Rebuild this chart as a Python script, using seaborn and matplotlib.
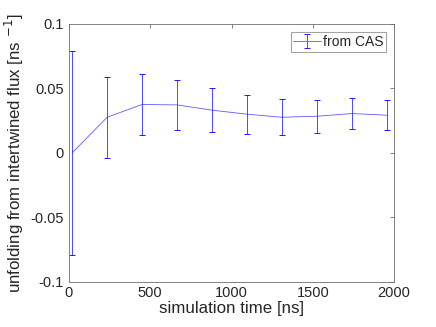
import numpy as np
import pandas as pd
import matplotlib
matplotlib.use("Agg")
import matplotlib.pyplot as plt
import seaborn as sns

# data
time_ns = [20, 235, 450, 665, 880, 1095, 1310, 1525, 1740, 1955]
mean_flux = [0.0, 0.0276, 0.0375, 0.0372, 0.0331, 0.0300, 0.0276, 0.0284, 0.0305, 0.0292]
lower_flux = [-0.0788, -0.0039, 0.0137, 0.0181, 0.0160, 0.0147, 0.0137, 0.0155, 0.0183, 0.0176]
upper_flux = [0.0790, 0.0592, 0.0612, 0.0566, 0.0501, 0.0450, 0.0421, 0.0413, 0.0426, 0.0408]
xticks = [0, 500, 1000, 1500, 2000]
yticks = [-0.1, -0.05, 0, 0.05, 0.1]
ytick_labels = ["-0.1", "-0.05", "0", "0.05", "0.1"]
series_label = "from CAS"

sns.set_style("white")
plt.rcParams['font.family'] = ['Liberation Sans', 'DejaVu Sans']

rows = []
for t, lo, m, hi in zip(time_ns, lower_flux, mean_flux, upper_flux):
    for v in (lo, m, hi):
        rows.append({"t": t, "v": v})
df = pd.DataFrame(rows)

fig = plt.figure(figsize=(4.36, 3.27), dpi=100)
ax = fig.add_axes([0.158, 0.138, 0.746, 0.789])

blue = "#1a1aff"
line_blue = "#5c5cff"
sns.lineplot(data=df, x="t", y="v", estimator="median", errorbar=("pi", 100),
             err_style="bars", color=blue, lw=0.6, alpha=1.0,
             err_kws={"capsize": 2, "elinewidth": 0.55, "capthick": 0.7},
             ax=ax, legend=False)
for ln in ax.get_lines():
    if len(ln.get_xdata()) == len(time_ns):
        ln.set_color(line_blue)

# legend proxy with errorbar glyph
proxy = ax.errorbar([np.nan], [np.nan], yerr=[[np.nan]], color=line_blue, lw=0.6,
                    elinewidth=0.55, capsize=2, capthick=0.7, ecolor=blue,
                    label=series_label)
leg = ax.legend(loc="upper right", frameon=True, fancybox=False, fontsize=10,
                handlelength=2.0, handletextpad=0.1, borderpad=0.2,
                borderaxespad=0.6)
leg.get_frame().set_edgecolor("#8c8c8c")
leg.get_frame().set_linewidth(0.8)
for t in leg.get_texts():
    t.set_color("#262626")

ax.set_xlim(0, 2000)
ax.set_ylim(-0.1, 0.1)
ax.set_xticks(xticks)
ax.set_xticklabels([str(x) for x in xticks])
ax.set_yticks(yticks)
ax.set_yticklabels(ytick_labels)
ax.set_xlabel("simulation time [ns]", fontsize=12.2, labelpad=1, color="#262626")
ax.set_ylabel("unfolding from intertwined flux [ns $^{-1}$]", fontsize=12.2,
              labelpad=3, color="#262626")

for s in ax.spines.values():
    s.set_visible(True)
    s.set_color("#6e6e6e")
    s.set_linewidth(0.6)
ax.tick_params(direction="in", length=3, width=0.6, colors="#6e6e6e",
               labelsize=10.5, top=True, right=True, labelcolor="#262626")
ax.tick_params(axis="x", pad=3)

fig.savefig("out.png", dpi=100)
